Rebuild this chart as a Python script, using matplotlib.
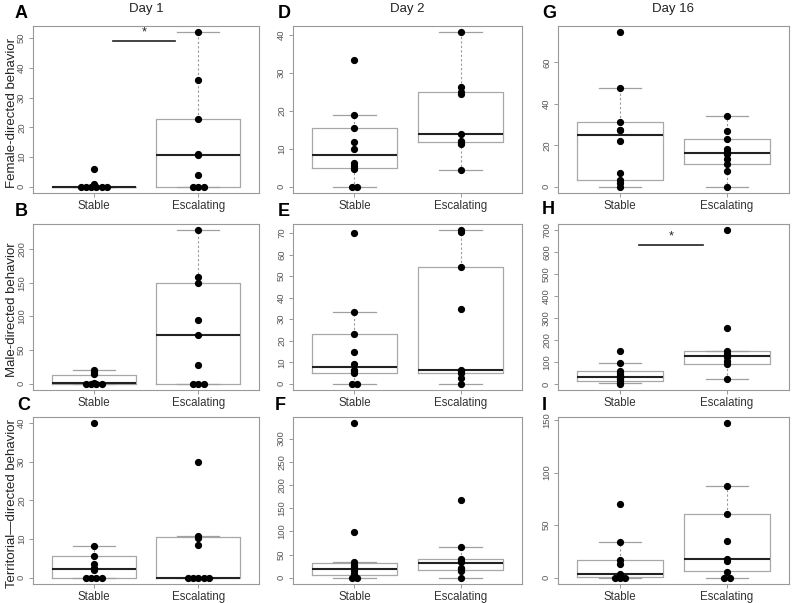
import numpy as np
import matplotlib
matplotlib.use("Agg")
import matplotlib.pyplot as plt

plt.rcParams["font.family"] = ["Liberation Sans", "DejaVu Sans"]

GROUPS = ["Stable", "Escalating"]

# individual animals per panel
a_stable = [0, 0, 0, 0, 0, 0, 1, 6]
a_escal = [0, 0, 0, 4, 10.7, 11.1, 22.7, 36, 52]
b_stable = [0, 0, 0, 0, 2, 14, 18, 21]
b_escal = [0, 0, 0, 27.5, 72.6, 95, 150, 158.7, 228]
c_stable = [0, 0, 0, 0, 2, 2.6, 3.5, 5.7, 8.2, 40]
c_escal = [0, 0, 0, 0, 0, 8.5, 10.4, 10.8, 30]
d_stable = [0, 0, 4.8, 5.5, 6.3, 10, 11.7, 15.6, 19, 33.4]
d_escal = [4.3, 11.2, 11.6, 12, 13.8, 24.5, 25, 26.3, 40.7]
e_stable = [0, 0, 5, 6, 6.2, 9, 14.9, 23.1, 33.3, 70]
e_escal = [0, 2.6, 5.2, 6, 6.4, 34.8, 54.4, 70.5, 71.3]
f_stable = [0, 0, 3, 8, 14, 19, 24, 28, 33, 98, 333]
f_escal = [0, 14, 18, 22, 33, 37, 41, 67, 168]
g_stable = [0, 1.6, 3.3, 6.7, 22.3, 27.4, 27.6, 31.3, 47.5, 74.5]
g_escal = [0, 7.5, 10.9, 13.4, 16, 17, 18, 23, 26.8, 34]
h_stable = [2, 8, 15, 22, 28, 33, 40, 50, 62, 95, 150]
h_escal = [22, 93, 108, 123, 137, 152, 254, 700]
i_stable = [0, 0, 0, 2.5, 4, 13.4, 17.2, 34.4, 69.7]
i_escal = [0, 0, 5.6, 16, 18, 35.3, 60.3, 87.5, 147]

# box stats: lower whisker, q1, median, q3, upper whisker
a_stable_box = [0, 0, 0, 0, 0]
a_escal_box = [0, 0, 10.8, 22.7, 52]
b_stable_box = [0, 0, 1, 13.6, 21]
b_escal_box = [0, 0, 72.6, 149, 228]
c_stable_box = [0, 0, 2.2, 5.75, 8.2]
c_escal_box = [0, 0, 0, 10.6, 10.8]
d_stable_box = [0, 5, 8.3, 15.6, 19]
d_escal_box = [4.3, 11.9, 13.8, 25, 40.7]
e_stable_box = [0, 5, 7.6, 23.1, 33.3]
e_escal_box = [0, 5.2, 6.4, 54.4, 71.3]
f_stable_box = [0, 7, 19.3, 32, 33]
f_escal_box = [0, 17.8, 32, 41, 67]
g_stable_box = [0, 3.1, 24.9, 31.3, 47.5]
g_escal_box = [0, 10.9, 16.5, 23, 34]
h_stable_box = [7.5, 15, 32.6, 62, 95.7]
h_escal_box = [22, 93, 130, 150, 152]
i_stable_box = [0, 1, 3.4, 16.6, 34.4]
i_escal_box = [0, 6.25, 18, 60.3, 87.5]

tick_steps = {"A": 10, "B": 50, "C": 10, "D": 10, "E": 10, "F": 50, "G": 20, "H": 100, "I": 50}
sig_height = {"A": 49, "H": 632}

titles = ["Day 1", "Day 2", "Day 16"]
ylabels = ["Female-directed behavior", "Male-directed behavior", "Territorial\u2014directed behavior"]

panels = {
    "A": (a_stable, a_escal, a_stable_box, a_escal_box),
    "B": (b_stable, b_escal, b_stable_box, b_escal_box),
    "C": (c_stable, c_escal, c_stable_box, c_escal_box),
    "D": (d_stable, d_escal, d_stable_box, d_escal_box),
    "E": (e_stable, e_escal, e_stable_box, e_escal_box),
    "F": (f_stable, f_escal, f_stable_box, f_escal_box),
    "G": (g_stable, g_escal, g_stable_box, g_escal_box),
    "H": (h_stable, h_escal, h_stable_box, h_escal_box),
    "I": (i_stable, i_escal, i_stable_box, i_escal_box),
}

# layout in pixels
W, H = 792, 603
col_x = [(33, 259), (293, 522), (558, 789)]
row_y = [(26, 193), (224, 390), (417, 584)]
letter_xy = {"A": (15, 14), "D": (278, 14), "G": (542, 14),
             "B": (15, 211), "E": (278, 211), "H": (542, 210),
             "C": (17, 406), "F": (275, 405), "I": (542, 405)}


def tie_offsets(vals, step=0.05):
    vals = np.asarray(vals, dtype=float)
    off = np.zeros(len(vals))
    for v in np.unique(vals):
        idx = np.where(vals == v)[0]
        k = len(idx)
        off[idx] = (np.arange(k) - (k - 1) / 2) * step
    return off


fig = plt.figure(figsize=(W / 100, H / 100), dpi=100)

for c, col_letters in enumerate(["ABC", "DEF", "GHI"]):
    for r, letter in enumerate(col_letters):
        x0, x1 = col_x[c]
        y0, y1 = row_y[r]
        ax = fig.add_axes([x0 / W, 1 - y1 / H, (x1 - x0) / W, (y1 - y0) / H])
        stable, escal, sbox, ebox = panels[letter]

        stats = []
        for b in (sbox, ebox):
            stats.append(dict(whislo=b[0], q1=b[1], med=b[2], q3=b[3], whishi=b[4]))
        ax.bxp(stats, positions=[1, 2], widths=0.8, capwidths=0.4, showfliers=False,
               boxprops=dict(color="#a8a8a8", lw=0.9),
               medianprops=dict(color="#222222", lw=1.5),
               whiskerprops=dict(color="#999999", lw=0.8, ls=(0, (2, 2))),
               capprops=dict(color="#a0a0a0", lw=0.9))

        for pos, vals in ((1, stable), (2, escal)):
            ax.plot(pos + tie_offsets(vals), vals, "o", color="black", ms=4.2,
                    mec="black", zorder=4, clip_on=False)

        allv = np.concatenate([stable, escal, sbox, ebox])
        lo, hi = allv.min(), allv.max()
        pad = 0.04 * (hi - lo)
        ax.set_ylim(lo - pad, hi + pad)
        ax.set_xlim(0.42, 2.58)

        step = tick_steps[letter]
        ax.set_yticks(np.arange(0, hi + pad, step))
        ax.set_xticks([1, 2])
        ax.set_xticklabels(GROUPS, fontsize=8.3, color="#333333")
        ax.tick_params(axis="x", length=3, width=0.7, color="#999999", pad=2)
        ax.tick_params(axis="y", length=3, width=0.7, color="#999999", pad=2,
                       labelsize=6.8, labelcolor="#555555")
        for lab in ax.get_yticklabels():
            lab.set_rotation(90)
            lab.set_va("center")
        for sp in ax.spines.values():
            sp.set_color("#999999")
            sp.set_linewidth(0.8)

        if letter in sig_height:
            yb = sig_height[letter]
            ax.plot([1.18, 1.78], [yb, yb], color="#222222", lw=1.2)
            ax.text(1.48, yb + 0.015 * (hi - lo), "*", ha="center", va="bottom",
                    fontsize=9, color="#222222")

        lx, ly = letter_xy[letter]
        fig.text(lx / W, 1 - ly / H, letter, fontsize=13, fontweight="bold",
                 ha="left", va="center")

for c, t in enumerate(titles):
    x0, x1 = col_x[c]
    fig.text((x0 + x1) / 2 / W, 1 - 9 / H, t, fontsize=9.5, ha="center", va="center",
             color="#222222")

for r, lab in enumerate(ylabels):
    y0, y1 = row_y[r]
    fig.text(12 / W, 1 - ((y0 + y1) / 2 + 3) / H, lab, fontsize=9.5, rotation=90,
             ha="center", va="center", color="#222222")

fig.savefig("out.png", dpi=100)
